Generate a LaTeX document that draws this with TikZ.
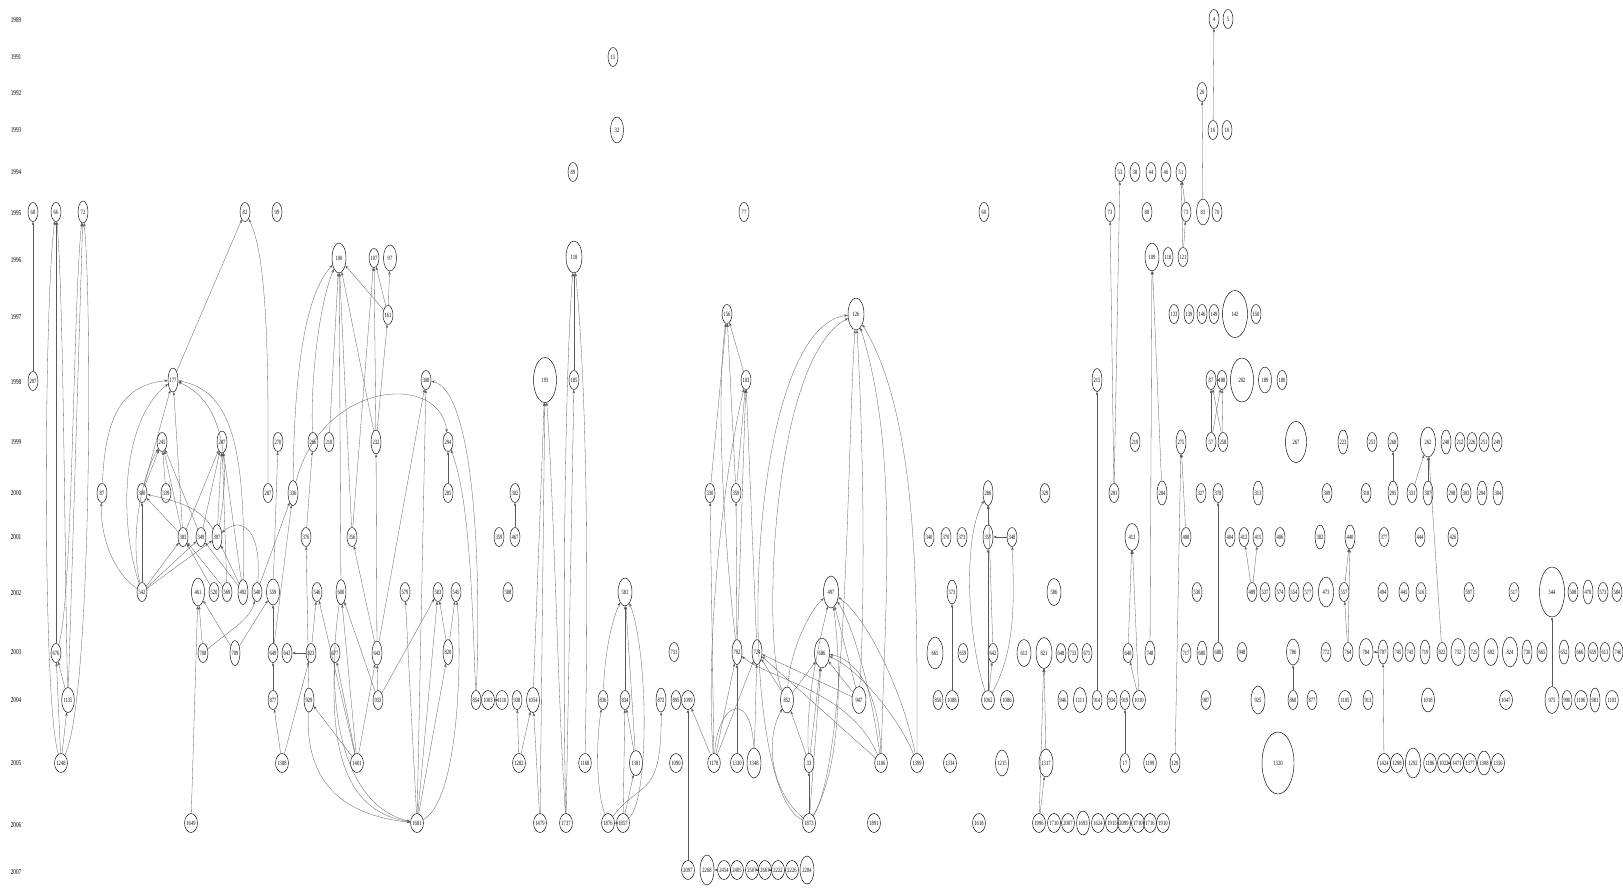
\documentclass[tikz,border=0pt]{standalone}
\usepackage{graphicx}
\usepackage{fontspec}
\setmainfont{Liberation Serif}
\usetikzlibrary{shapes.geometric,arrows.meta}
\newcommand\gn[5][]{\node[v,#1] (#2) at (#3,#4) {\scalebox{0.7}[1]{#5}};}
\newcommand\ed[2]{\draw[e] (#1) -- (#2);}
\begin{document}
\begin{tikzpicture}[x=1pt,y=-1pt,
 v/.style={ellipse,draw,line width=0.45pt,inner sep=0pt,minimum width=10pt,minimum height=19pt,font=\fontsize{6.5}{6.5}\selectfont},
 m/.style={minimum width=13pt,minimum height=26pt},
 yr/.style={font=\fontsize{7.5}{7.5}\selectfont,inner sep=0pt},
 e/.style={-{Stealth[length=3.5pt,width=2.4pt]},line width=0.3pt,draw=black!65},
]
\useasboundingbox (0,0) rectangle (1623,887);
% year labels
\node[yr] (y1989) at (16,20) {\scalebox{0.7}[1]{1989}};
\node[yr] (y1991) at (16,57) {\scalebox{0.7}[1]{1991}};
\node[yr] (y1992) at (16,93) {\scalebox{0.7}[1]{1992}};
\node[yr] (y1993) at (16,130) {\scalebox{0.7}[1]{1993}};
\node[yr] (y1994) at (16,172) {\scalebox{0.7}[1]{1994}};
\node[yr] (y1995) at (16,213) {\scalebox{0.7}[1]{1995}};
\node[yr] (y1996) at (16,260) {\scalebox{0.7}[1]{1996}};
\node[yr] (y1997) at (16,317) {\scalebox{0.7}[1]{1997}};
\node[yr] (y1998) at (16,382) {\scalebox{0.7}[1]{1998}};
\node[yr] (y1999) at (16,442) {\scalebox{0.7}[1]{1999}};
\node[yr] (y2000) at (16,493) {\scalebox{0.7}[1]{2000}};
\node[yr] (y2001) at (16,537) {\scalebox{0.7}[1]{2001}};
\node[yr] (y2002) at (16,593) {\scalebox{0.7}[1]{2002}};
\node[yr] (y2003) at (16,652) {\scalebox{0.7}[1]{2003}};
\node[yr] (y2004) at (16,700) {\scalebox{0.7}[1]{2004}};
\node[yr] (y2005) at (16,763) {\scalebox{0.7}[1]{2005}};
\node[yr] (y2006) at (16,825) {\scalebox{0.7}[1]{2006}};
\node[yr] (y2007) at (16,872) {\scalebox{0.7}[1]{2007}};
% 1989-1994
\gn{a4}{1214}{19}{4}\gn{a5}{1228}{19}{5}
\gn{a15}{613}{57}{15}
\gn{a20}{1202}{92}{20}
\gn[m]{a32}{617}{130}{32}\gn{a16}{1213}{130}{16}\gn{a10}{1227}{130}{10}
\gn{a89}{573}{172}{89}\gn{a53}{1120}{172}{53}\gn{a38}{1135}{172}{38}\gn{a44}{1151}{172}{44}\gn{a46}{1166}{172}{46}\gn{a51}{1181}{172}{51}
% 1995
\gn{a68}{33}{212}{68}\gn{a66}{56}{212}{66}\gn[minimum height=22pt]{a72}{83}{212}{72}\gn{a82}{245}{212}{82}\gn{a99}{277}{212}{99}
\gn{a77}{744}{212}{77}\gn{a60}{984}{212}{60}\gn{a73}{1110}{212}{73}\gn{a88}{1147}{212}{88}\gn{a73b}{1186}{212}{73}\gn[m]{a83}{1203}{212}{83}\gn{a70}{1217}{212}{70}
% 1996
\gn[minimum width=14pt,minimum height=30pt]{a100}{339}{258}{100}\gn{a107}{374}{258}{107}\gn[m]{a97}{390}{258}{97}
\gn[minimum width=16pt,minimum height=32pt]{a118}{574}{257}{118}
\gn[minimum width=14pt,minimum height=28pt]{a109}{1152}{257}{109}\gn{a118b}{1168}{257}{118}\gn{a121}{1183}{257}{121}
% 1997
\gn{a161}{388}{315}{161}\gn{a156}{727}{314}{156}\gn[minimum width=16pt,minimum height=32pt]{a126}{856}{314}{126}
\gn{a133}{1174}{314}{133}\gn{a139}{1189}{314}{139}\gn{a146}{1202}{314}{146}\gn{a149}{1214}{314}{149}
\gn[minimum width=25pt,minimum height=47pt]{a142}{1235}{314}{142}\gn{a150}{1256}{314}{150}
% 1998
\gn{a297}{33}{381}{297}\gn[minimum height=24pt]{a177}{173}{380}{177}\gn{a308}{426}{380}{308}
\gn[minimum width=23pt,minimum height=45pt]{a193}{545}{380}{193}\gn{a185}{574}{380}{185}\gn{a183}{746}{380}{183}
\gn[minimum height=23pt]{a215}{1097}{380}{215}\gn{a87}{1211}{380}{87}\gn{a188}{1222}{380}{188}
\gn[minimum width=23pt,minimum height=44pt]{a202}{1242}{380}{202}\gn[m]{a189}{1265}{380}{189}\gn{a180}{1282}{380}{180}
% 1999
\gn{a245}{162}{442}{245}\gn[minimum height=22pt]{a247}{222}{442}{247}\gn{a270}{278}{442}{270}\gn{a266}{313}{442}{266}\gn{a218}{329}{442}{218}\gn[minimum height=24pt]{a232}{376}{442}{232}
\gn{a294}{448}{442}{294}
\gn{a219}{1135}{442}{219}\gn[minimum height=24pt]{a275}{1181}{442}{275}\gn{a57}{1211}{442}{57}\gn{a258}{1223}{442}{258}
\gn[minimum width=21pt,minimum height=41pt]{a267}{1296}{442}{267}\gn[minimum height=24pt]{a223}{1343}{442}{223}\gn{a253}{1372}{442}{253}\gn{a268}{1393}{442}{268}
\gn[minimum width=15pt,minimum height=30pt]{a262}{1428}{442}{262}\gn[minimum height=24pt]{a248}{1446}{442}{248}\gn{a212}{1460}{442}{212}\gn{a226}{1472}{442}{226}\gn{a251}{1484}{442}{251}\gn{a249}{1497}{442}{249}
% 2000
\gn{b87}{102}{493}{87}\gn{a300}{142}{493}{300}\gn{a339}{166}{493}{339}\gn{a287}{268}{493}{287}\gn[minimum height=25pt]{a336}{293}{493}{336}
\gn{a285}{448}{493}{285}\gn{a302}{515}{493}{302}\gn{a330}{710}{493}{330}\gn{a359}{736}{493}{359}
\gn[minimum height=25pt]{a286}{988}{493}{286}\gn{a329}{1045}{493}{329}\gn{a281}{1114}{493}{281}\gn[minimum height=24pt]{a284}{1162}{493}{284}\gn{a327}{1201}{493}{327}\gn{a378}{1218}{493}{378}
\gn[minimum height=24pt]{a313}{1258}{493}{313}\gn{a309}{1327}{493}{309}\gn{a318}{1366}{493}{318}\gn[minimum height=24pt]{a295}{1393}{493}{295}\gn{a331}{1412}{493}{331}
\gn[minimum height=24pt]{a307}{1428}{493}{307}\gn{a298}{1452}{493}{298}\gn{a303}{1466}{493}{303}\gn[minimum height=24pt]{a294b}{1482}{493}{294}\gn[minimum height=24pt]{a304}{1498}{493}{304}
% 2001
\gn{a383}{183}{537}{383}\gn{a349}{201}{537}{349}\gn[minimum height=25pt]{a397}{217}{537}{397}\gn{a376}{306}{537}{376}\gn{a356}{352}{537}{356}
\gn{a359b}{499}{537}{359}\gn{a467}{515}{537}{467}
\gn{a340}{929}{537}{340}\gn{a370}{946}{537}{370}\gn{a373}{962}{537}{373}\gn[minimum height=24pt]{a357}{988}{537}{357}\gn{a348}{1012}{537}{348}
\gn[minimum width=14pt,minimum height=27pt]{a413}{1132}{537}{413}\gn{a408}{1186}{537}{408}\gn{a404}{1230}{537}{404}\gn{a412}{1244}{537}{412}\gn{a415}{1258}{537}{415}\gn{a406}{1280}{537}{406}
\gn[minimum height=24pt]{a382}{1320}{537}{382}\gn[minimum height=24pt]{a440}{1350}{537}{440}\gn{a377}{1384}{537}{377}\gn{a444}{1420}{537}{444}\gn{a426}{1453}{537}{426}
% 2002
\gn{a542}{142}{592}{542}\gn[minimum width=13pt,minimum height=28pt]{a461}{198}{592}{461}\gn{a520}{214}{592}{520}\gn{a569}{227}{592}{569}\gn[minimum height=25pt]{a492}{243}{592}{492}\gn{a540}{257}{592}{540}
\gn[m]{a559}{273}{592}{559}\gn{a546}{317}{592}{546}\gn[minimum height=25pt]{a600}{341}{592}{600}\gn{a579}{405}{592}{579}\gn{a583}{438}{592}{583}\gn{a545}{456}{592}{545}
\gn{a588}{508}{592}{588}\gn[minimum width=14pt,minimum height=28pt]{a581}{625}{592}{581}\gn[minimum width=15pt,minimum height=32pt]{a497}{831}{592}{497}
\gn[minimum height=24pt]{a573}{952}{592}{573}\gn[minimum width=14pt,minimum height=27pt]{a586}{1054}{592}{586}\gn{a530}{1197}{592}{530}
\gn{a489}{1252}{592}{489}\gn{a537}{1265}{592}{537}\gn{a574}{1280}{592}{574}\gn{a554}{1294}{592}{554}\gn{a577}{1308}{592}{577}\gn[minimum width=15pt,minimum height=30pt]{a473}{1326}{592}{473}
\gn{a557}{1344}{592}{557}\gn{a494}{1383}{592}{494}\gn{a445}{1404}{592}{445}\gn{a516}{1421}{592}{516}\gn{a597}{1469}{592}{597}\gn{a517}{1514}{592}{517}
\gn[minimum width=25pt,minimum height=50pt]{a544}{1552}{592}{544}\gn{a508}{1573}{592}{508}\gn[minimum height=24pt]{a470}{1588}{592}{470}\gn{a573b}{1603}{592}{573}\gn{a584}{1617}{592}{584}
% 2003
\gn{a676}{56}{653}{676}\gn{a708}{203}{653}{708}\gn[minimum height=25pt]{a709}{235}{653}{709}\gn{a649}{273}{653}{649}\gn{a643}{287}{653}{643}\gn{a823}{311}{653}{823}\gn{a677}{335}{653}{677}
\gn[minimum height=24pt]{a643b}{377}{653}{643}\gn[minimum height=25pt]{a820}{448}{652}{820}\gn{a731}{674}{652}{731}\gn[minimum height=25pt]{a792}{737}{652}{792}\gn[minimum height=25pt]{a724}{757}{652}{724}
\gn[minimum width=15pt,minimum height=30pt]{a686}{822}{653}{686}\gn[minimum width=16pt,minimum height=32pt]{a665}{935}{653}{665}\gn{a659}{963}{653}{659}\gn{a642}{993}{653}{642}
\gn[minimum width=14pt,minimum height=27pt]{a613}{1024}{653}{613}\gn[minimum width=16pt,minimum height=31pt]{a821}{1044}{653}{821}\gn{a648}{1061}{653}{648}\gn{a733}{1073}{653}{733}\gn{a675}{1087}{653}{675}
\gn{a640}{1128}{653}{640}\gn[minimum height=24pt]{a748}{1150}{653}{748}\gn{a717}{1186}{653}{717}\gn[minimum height=24pt]{a680}{1202}{653}{680}\gn{a688}{1218}{652}{688}\gn{a948}{1242}{652}{948}
\gn[m]{a786}{1293}{652}{786}\gn{a772}{1326}{652}{772}\gn{a764}{1348}{652}{764}\gn[minimum width=14pt,minimum height=27pt]{a784}{1366}{652}{784}\gn[minimum height=24pt]{a787}{1383}{652}{787}
\gn{a745}{1398}{652}{745}\gn{a743}{1410}{652}{743}\gn[minimum height=24pt]{a719}{1425}{652}{719}\gn{a822}{1442}{652}{822}\gn[minimum width=14pt,minimum height=27pt]{a732}{1458}{652}{732}\gn{a725}{1474}{652}{725}
\gn[minimum width=14pt,minimum height=27pt]{a692}{1491}{652}{692}\gn[minimum width=15pt,minimum height=30pt]{a824}{1510}{652}{824}\gn[minimum height=24pt]{a730}{1527}{652}{730}\gn{a665b}{1542}{652}{665}
\gn[minimum height=24pt]{a652}{1564}{652}{652}\gn{a666}{1580}{652}{666}\gn{a659b}{1593}{652}{659}\gn{a613b}{1605}{652}{613}\gn{a746}{1618}{652}{746}
% 2004
\gn[minimum height=25pt]{a1135}{68}{700}{1135}\gn{a877}{273}{700}{877}\gn[minimum height=24pt]{a929}{309}{700}{929}\gn{a933}{378}{700}{933}
\gn{a854}{476}{700}{854}\gn{a1003}{488}{700}{1003}\gn{a1110}{502}{700}{1110}\gn{a938}{517}{700}{938}\gn[minimum height=25pt]{a1054}{533}{700}{1054}
\gn{a836}{603}{700}{836}\gn{a834}{625}{700}{834}\gn[minimum height=24pt]{a872}{661}{700}{872}\gn{a895}{676}{700}{895}\gn{a1099}{688}{700}{1099}
\gn[m]{a852}{787}{700}{852}\gn[minimum width=14pt,minimum height=27pt]{a947}{859}{700}{947}\gn{a850}{938}{700}{850}\gn{a1088}{952}{700}{1088}\gn{a1062}{988}{700}{1062}\gn{a1086}{1007}{700}{1086}
\gn{a946}{1063}{700}{946}\gn[minimum width=13pt,minimum height=25pt]{a1111}{1080}{700}{1111}\gn{a914}{1097}{700}{914}\gn{a934}{1112}{700}{934}\gn{a919}{1125}{700}{919}\gn{a1010}{1139}{700}{1010}
\gn{a987}{1206}{700}{987}\gn[minimum width=14pt,minimum height=28pt]{a925}{1258}{700}{925}\gn{a868}{1293}{700}{868}\gn{a877b}{1312}{700}{877}\gn{a1105}{1345}{700}{1105}\gn{a913}{1368}{700}{913}
\gn[minimum height=24pt]{a1018}{1428}{700}{1018}\gn{a1047}{1506}{700}{1047}\gn[minimum width=14pt,minimum height=27pt]{a975}{1552}{700}{975}\gn{a990}{1567}{700}{990}\gn{a1106b}{1581}{700}{1106}
\gn[minimum height=24pt]{a981}{1595}{700}{981}\gn{a1103}{1612}{700}{1103}
% 2005
\gn{a1248}{61}{763}{1248}\gn{a1388}{282}{763}{1388}\gn{a1401}{357}{763}{1401}\gn{a1282}{519}{763}{1282}\gn{a1168}{585}{763}{1168}
\gn[minimum width=13pt,minimum height=25pt]{a1381}{636}{763}{1381}\gn{a1090}{676}{763}{1090}\gn{a1178}{714}{763}{1178}\gn{a1330}{737}{763}{1330}\gn[minimum width=14pt,minimum height=30pt]{a1348}{754}{763}{1348}
\gn{a33}{809}{763}{33}\gn{a1106}{881}{763}{1106}\gn{a1399}{917}{763}{1399}\gn{a1334}{950}{763}{1334}\gn[m]{a1215}{1002}{763}{1215}\gn[minimum width=14pt,minimum height=28pt]{a1317}{1046}{763}{1317}
\gn{a17}{1125}{763}{17}\gn{a1199}{1150}{763}{1199}\gn{a129}{1175}{763}{129}\gn[minimum width=32pt,minimum height=62pt]{a1320}{1278}{763}{1320}
\gn{a1424}{1384}{763}{1424}\gn{a1298}{1397}{763}{1298}\gn[minimum width=15pt,minimum height=30pt]{a1292}{1413}{763}{1292}\gn{a1186}{1430}{763}{1186}\gn{a1022}{1444}{763}{1022}
\gn{a1471}{1457}{763}{1471}\gn{a1377}{1470}{763}{1377}\gn[minimum height=24pt]{a1308}{1484}{763}{1308}\gn{a1356}{1498}{763}{1356}
% 2006
\gn{a1649}{191}{823}{1649}\gn{a1681}{417}{823}{1681}\gn{a1479}{540}{823}{1479}\gn{a1737}{566}{823}{1737}\gn{a1876}{608}{823}{1876}\gn{a2857}{623}{823}{1857}
\gn{a1873}{809}{823}{1873}\gn{a1891}{874}{823}{1891}\gn{a1618}{979}{823}{1618}\gn{a1996}{1039}{823}{1996}\gn{a1710}{1054}{823}{1710}\gn{a2007}{1068}{823}{2007}
\gn[minimum height=24pt]{a1693}{1083}{823}{1693}\gn{a1624}{1098}{823}{1624}\gn{a1915}{1112}{823}{1915}\gn{a2099}{1124}{823}{2099}\gn{a1710b}{1138}{823}{1710}\gn{a1716}{1150}{823}{1716}\gn{a1910}{1163}{823}{1910}
% 2007
\gn{a2097}{688}{870}{2097}\gn[minimum width=14pt,minimum height=30pt]{a2268}{707}{870}{2268}\gn{a2454}{724}{870}{2454}\gn{a2405}{737}{870}{2405}\gn{a2507}{752}{870}{2507}
\gn{a2667}{765}{870}{2667}\gn{a2222}{778}{870}{2222}\gn{a2226}{792}{870}{2226}\gn[minimum width=14pt,minimum height=28pt]{a2284}{807}{870}{2284}
% ---------- edges: right part
\ed{a16}{a4}\ed{a83}{a20}\ed{a281}{a73}\ed{a281}{a53}\ed{a121}{a73b}\ed{a121}{a51}\ed{a73b}{a51}
\ed{a57}{a87}\ed{a57}{a188}\ed{a258}{a87}\ed{a258}{a188}\ed{a188}{a87}
\ed{a295}{a268}\ed{a331}{a262}\ed{a307}{a262}\ed{a822}{a262}
\ed{a688}{a378}\ed{a489}{a412}\ed{a489}{a415}\ed{a764}{a557}\ed{a764}{a440}\ed{a557}{a440}
\ed{a975}{a544}\ed{a787}{a784}\ed{a1424}{a787}\ed{a868}{a786}\ed{a1471}{a1022}
\ed{a914}{a215}\ed{a284}{a109}\ed{a748}{a109}\ed{a129}{a275}\ed{a408}{a275}
\ed{a17}{a919}\ed{a1010}{a640}\ed{a640}{a413}\ed{a1010}{a413}
\ed{a1088}{a573}\ed{a1062}{a642}\ed{a1062}{a357}
\draw[e] (a1062) .. controls (968,640) and (962,540) .. (a286);
\draw[e] (a1062) .. controls (1016,650) and (1014,600) .. (a348);
\ed{a642}{a286}\ed{a357}{a286}\ed{a348}{a357}
\ed{a1996}{a1317}\ed{a1996}{a821}\ed{a1317}{a821}
\ed{a2097}{a1099}\ed{a2454}{a2268}\ed{a2667}{a2507}\ed{a2222}{a2667}
% ---------- edges: centre
\ed{a1054}{a193}\ed{a1479}{a193}
\draw[e] (a1737) .. controls (558,700) and (554,500) .. (a193);
\draw[e] (a1737) .. controls (563,700) and (563,400) .. (a118);
\ed{a1737}{a185}
\draw[e] (a1168) .. controls (588,600) and (588,400) .. (a118);
\ed{a185}{a118}
\ed{a1282}{a938}\ed{a1282}{a1054}\ed{a1479}{a1054}\ed{a1110}{a1003}\ed{a467}{a302}
\draw[e] (a1876) .. controls (596,790) and (596,740) .. (a836);
\ed{a2857}{a834}\ed{a1381}{a834}\ed{a2857}{a1381}\ed{a2857}{a1876}
\draw[e] (a836) .. controls (605,650) and (612,620) .. (a581);
\ed{a834}{a581}
\draw[e] (a2857) .. controls (650,800) and (648,650) .. (a581);
\ed{a1381}{a581}
\draw[e] (a1876) .. controls (640,780) and (662,800) .. (a872);
\ed{a1178}{a1099}\ed{a1178}{a330}\ed{a1178}{a792}\ed{a1178}{a724}
\draw[line width=0.3pt,draw=black!65] (a1178) .. controls (718,700) and (752,690) .. (a1348);
\ed{a1330}{a792}\ed{a1348}{a724}
\ed{a330}{a156}\ed{a359}{a156}\ed{a359}{a183}\ed{a183}{a156}\ed{a792}{a183}\ed{a724}{a183}
\draw[e] (a792) .. controls (725,550) and (715,400) .. (a156);
\ed{a792}{a359}
\draw[e] (a1178) .. controls (705,650) and (722,480) .. (a183);
\ed{a947}{a724}\ed{a852}{a724}\ed{a1106}{a724}
\draw[e] (a1106) .. controls (850,690) and (770,680) .. (a792);
\ed{a852}{a686}
\draw[e] (a852) .. controls (790,650) and (810,610) .. (a497);
\ed{a33}{a852}
\draw[e] (a33) .. controls (805,700) and (820,640) .. (a497);
\ed{a33}{a686}\ed{a1873}{a33}
\draw[e] (a1873) .. controls (770,790) and (765,740) .. (a852);
\draw[e] (a1873) .. controls (845,760) and (840,650) .. (a497);
\ed{a1873}{a686}
\draw[e] (a1873) .. controls (735,790) and (740,330) .. (a126);
\draw[e] (a852) .. controls (762,650) and (770,360) .. (a126);
\draw[e] (a1873) .. controls (848,760) and (847,450) .. (a126);
\ed{a947}{a686}\ed{a947}{a497}
\draw[e] (a947) .. controls (865,600) and (864,450) .. (a126);
\draw[e] (a1106) .. controls (880,700) and (860,660) .. (a686);
\draw[e] (a1106) .. controls (870,680) and (850,620) .. (a497);
\draw[e] (a1106) .. controls (885,600) and (899,450) .. (a126);
\draw[e] (a1399) .. controls (905,700) and (870,620) .. (a497);
\draw[e] (a1399) .. controls (900,720) and (860,670) .. (a686);
\draw[e] (a1399) .. controls (917,600) and (920,420) .. (a126);
% ---------- edges: left part
\ed{a297}{a68}
\draw[e] (a1248) .. controls (42,700) and (44,300) .. (a66);
\ed{a676}{a66}
\draw[e] (a1135) .. controls (65,600) and (64,300) .. (a66);
\draw[e] (a676) .. controls (73,600) and (73,300) .. (a72);
\ed{a1135}{a72}
\draw[e] (a1248) .. controls (92,700) and (92,300) .. (a72);
\ed{a1248}{a676}\ed{a1248}{a1135}\ed{a1135}{a676}
\ed{a177}{a82}
\draw[e] (a287) .. controls (268,400) and (270,260) .. (a82);
\draw[e] (b87) .. controls (105,420) and (120,385) .. (a177);
\draw[e] (a542) .. controls (118,520) and (122,420) .. (a177);
\ed{a300}{a177}\ed{a383}{a177}
\draw[e] (a397) .. controls (232,460) and (222,400) .. (a177);
\draw[e] (a492) .. controls (246,450) and (232,390) .. (a177);
\draw[e] (a542) .. controls (110,570) and (100,530) .. (b87);
\ed{a300}{a245}\ed{a339}{a245}\ed{a383}{a245}\ed{a349}{a245}
\draw[e] (a542) .. controls (130,540) and (140,480) .. (a245);
\ed{a383}{a247}\ed{a349}{a247}\ed{a397}{a247}\ed{a569}{a247}\ed{a492}{a247}
\ed{a542}{a300}\ed{a383}{a300}
\draw[e] (a397) .. controls (200,505) and (170,500) .. (a300);
\ed{a542}{a383}\ed{a542}{a349}\ed{a542}{a397}\ed{a520}{a383}\ed{a569}{a383}\ed{a492}{a349}\ed{a492}{a397}
\draw[e] (a540) .. controls (262,530) and (242,515) .. (a397);
\ed{a708}{a461}\ed{a709}{a461}\ed{a1649}{a461}\ed{a709}{a559}\ed{a649}{a559}
\draw[e] (a708) .. controls (230,630) and (250,620) .. (a540);
\ed{a540}{a336}\ed{a649}{a336}\ed{a559}{a270}\ed{a376}{a266}\ed{a929}{a376}
\draw[e] (a266) .. controls (310,380) and (320,300) .. (a100);
\ed{a218}{a100}
\draw[e] (a336) .. controls (294,400) and (300,300) .. (a100);
\draw[e] (a336) .. controls (322,380) and (440,372) .. (a294);
\ed{a356}{a100}\ed{a356}{a107}\ed{a600}{a100}\ed{a161}{a100}\ed{a161}{a107}\ed{a161}{a97}
\ed{a232}{a161}\ed{a232}{a107}\ed{a232}{a100}\ed{a643b}{a232}\ed{a643b}{a356}
\ed{a877}{a649}\ed{a1388}{a877}\ed{a1388}{a823}\ed{a823}{a643}\ed{a823}{a546}
\ed{a1401}{a929}\ed{a1401}{a546}\ed{a1401}{a677}\ed{a1401}{a600}\ed{a1401}{a643b}
\ed{a933}{a643b}\ed{a933}{a600}\ed{a933}{a583}
\draw[e] (a929) .. controls (305,780) and (340,815) .. (a1681);
\draw[e] (a677) .. controls (330,760) and (350,812) .. (a1681);
\draw[e] (a600) .. controls (325,700) and (340,805) .. (a1681);
\ed{a1681}{a579}\ed{a1681}{a308}\ed{a1681}{a583}\ed{a1681}{a820}
\draw[e] (a1681) .. controls (460,800) and (462,650) .. (a545);
\ed{a820}{a583}\ed{a820}{a545}\ed{a285}{a294}
\draw[e] (a854) .. controls (472,600) and (470,500) .. (a294);
\draw[e] (a854) .. controls (482,550) and (472,390) .. (a308);
\ed{a643b}{a308}
\end{tikzpicture}
\end{document}
